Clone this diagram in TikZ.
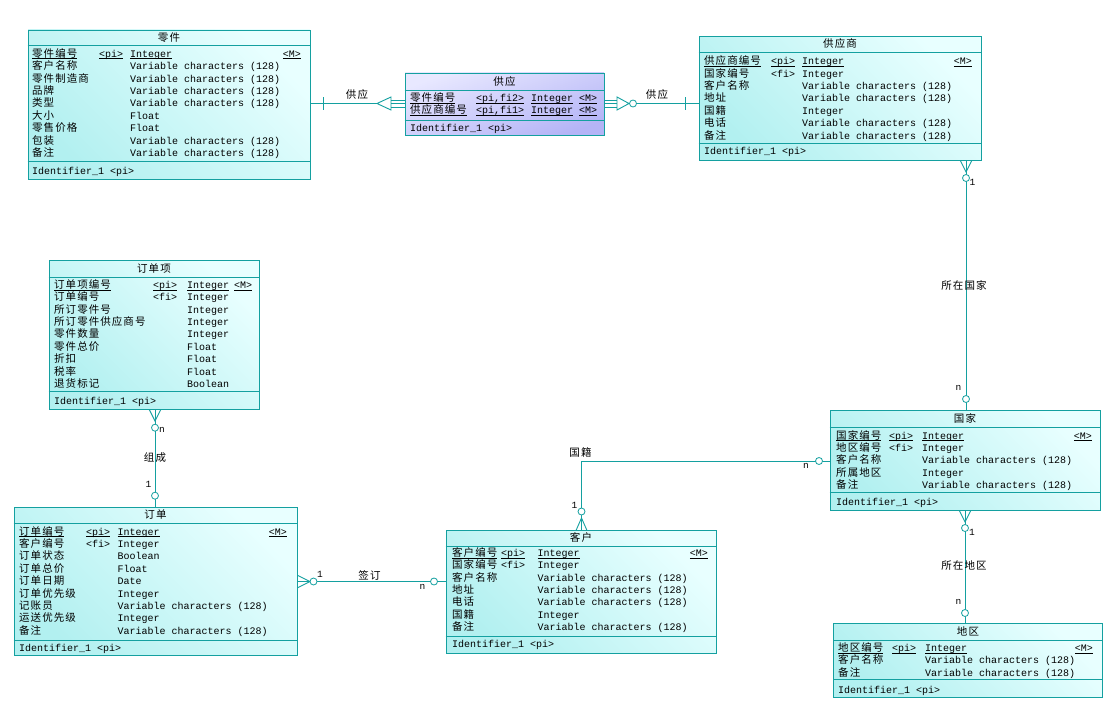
\documentclass[tikz,border=0pt]{standalone}
\usepackage{fontspec}
\setmainfont{Liberation Mono}
\newfontfamily\cnf[LetterSpace=10]{Noto Sans CJK SC}
\definecolor{tl}{RGB}{20,160,160}
\definecolor{cyA}{RGB}{178,240,240}
\definecolor{cyB}{RGB}{232,255,255}
\definecolor{blA}{RGB}{180,180,246}
\definecolor{blB}{RGB}{232,232,255}
\newcommand\uln[1]{\setbox0\hbox{#1}\rlap{\rule[-1.8pt]{\wd0}{0.6pt}}\box0}
\newcommand\erow[7]{%
  \node[cn] (#1n#2) at (#4,#3) {#5};
  \node[mono] (#1t#2) at (#6,#3) {#7};}
\newcommand\erowk[9]{%
  \erow{#1}{#2}{#3}{#4}{#5}{#8}{#9}
  \node[mono] (#1k#2) at (#6,#3) {#7};}
\newcommand\vc{Variable characters (128)}
\begin{document}
\begin{tikzpicture}[x=1pt,y=-1pt,
  mono/.style={anchor=base west, inner sep=0, font=\fontsize{10}{12}\selectfont},
  mright/.style={anchor=base east, inner sep=0, font=\fontsize{10}{12}\selectfont},
  cn/.style={anchor=base west, inner sep=0, font=\cnf\fontsize{10.5}{12}\selectfont},
  ttl/.style={anchor=base, inner sep=0, font=\cnf\fontsize{10.5}{12}\selectfont},
  card/.style={anchor=base west, inner sep=0, font=\fontsize{9.5}{11}\selectfont},
  ent/.style={draw=tl, line width=0.9pt, inner sep=0, top color=cyA, bottom color=cyB, shading angle=135},
  asc/.style={draw=tl, line width=0.9pt, inner sep=0, top color=blB, bottom color=blA, shading angle=20},
  sepl/.style={draw=tl, line width=0.9pt},
  conn/.style={draw=tl, line width=0.9pt},
  circ/.style={circle, draw=tl, fill=white, line width=0.8pt, minimum size=7pt, inner sep=0}]
\useasboundingbox (0,0) rectangle (1116,709);
\fill[white] (0,0) rectangle (1116,709);

% ---------------- connectors ----------------
% 零件 -- 供应
\coordinate (fA) at (377,103.5);
\draw[conn] (310,103.5) -- (fA);
\draw[conn] (fA) -- (391,97) -- (391,110) -- cycle;
\foreach \yy in {100,103.5,107} \draw[conn] (391,\yy) -- (405,\yy);
\draw[conn] (323.3,97) -- (323.3,110);
\node[ttl] (lF) at (357,99) {供应};
% 供应 -- 供应商
\coordinate (gA) at (629,103.5);
\foreach \yy in {100,103.5,107} \draw[conn] (604,\yy) -- (617,\yy);
\draw[conn] (gA) -- (617,97) -- (617,110) -- cycle;
\draw[conn] (gA) -- (699,103.5);
\draw[conn] (685,97) -- (685,110);
\node[circ] (cG) at (633,103.5) {};
\node[ttl] (lG) at (657,99) {供应};
% 供应商 -- 国家
\draw[conn] (966,160) -- (966,410);
\draw[conn] (960,160) -- (966,172) -- (972,160);
\node[circ] (cA1) at (966,178) {};
\node[circ] (cA2) at (966,399) {};
\node[card] (kA1) at (969.5,185) {1};
\node[card] (kA2) at (955.5,390) {n};
\node[ttl] (lA) at (964,289) {所在国家};
% 国家 -- 地区
\draw[conn] (965,510) -- (965,623);
\draw[conn] (959,510) -- (965,522) -- (971,510);
\node[circ] (cB1) at (965,528) {};
\node[circ] (cB2) at (965,613) {};
\node[card] (kB1) at (969,535) {1};
\node[card] (kB2) at (955.5,604) {n};
\node[ttl] (lB) at (964,569) {所在地区};
% 国家 -- 客户
\coordinate (cC) at (581.5,461);
\draw[conn] (830,461) -- (cC) -- (581.5,530.5);
\draw[conn] (576,530.5) -- (581.5,518) -- (587,530.5);
\node[circ] (cC1) at (819,461) {};
\node[circ] (cC2) at (581.5,511.5) {};
\node[card] (kC1) at (803,468) {n};
\node[card] (kC2) at (571.5,508) {1};
\node[ttl] (lC) at (580.5,456.5) {国籍};
% 订单项 -- 订单
\draw[conn] (155,409) -- (155,507);
\draw[conn] (149,409) -- (155,421) -- (161,409);
\node[circ] (cD1) at (155,427.7) {};
\node[circ] (cD2) at (155,495.7) {};
\node[card] (kD1) at (159,432.5) {n};
\node[card] (kD2) at (145.5,487) {1};
\node[ttl] (lD) at (155,461) {组成};
% 订单 -- 客户
\draw[conn] (297,581.5) -- (446,581.5);
\draw[conn] (297,575) -- (310,581.5) -- (297,588);
\node[circ] (cE1) at (313.5,581.5) {};
\node[circ] (cE2) at (434,581.5) {};
\node[card] (kE1) at (317,577.5) {1};
\node[card] (kE2) at (419.5,589.5) {n};
\node[ttl] (lE) at (369.5,579) {签订};

% ---------------- 零件 ----------------
\node[ent, minimum width=282, minimum height=149] (lj) at (169,104.5) {};
\node[ttl] (ljh) at (169,41.5) {零件};
\draw[sepl] (lj.west |- 0,45.5) -- (lj.east |- 0,45.5);
\draw[sepl] (lj.west |- 0,161.5) -- (lj.east |- 0,161.5);
\erowk{lj}{1}{57.3}{32}{\uln{零件编号}}{99}{\uln{<pi>}}{130}{\uln{Integer}}
\node[mright] (ljm1) at (301,57.3) {\uln{<M>}};
\erow{lj}{2}{69.7}{32}{客户名称}{130}{\vc}
\erow{lj}{3}{82.1}{32}{零件制造商}{130}{\vc}
\erow{lj}{4}{94.5}{32}{品牌}{130}{\vc}
\erow{lj}{5}{106.9}{32}{类型}{130}{\vc}
\erow{lj}{6}{119.3}{32}{大小}{130}{Float}
\erow{lj}{7}{131.7}{32}{零售价格}{130}{Float}
\erow{lj}{8}{144.1}{32}{包装}{130}{\vc}
\erow{lj}{9}{156.5}{32}{备注}{130}{\vc}
\node[mono] (ljid) at (32,174) {Identifier\_1 <pi>};

% ---------------- 供应 ----------------
\node[asc, minimum width=199, minimum height=62] (gy) at (504.5,104) {};
\node[ttl] (gyh) at (504.5,85) {供应};
\draw[sepl] (gy.west |- 0,90) -- (gy.east |- 0,90);
\draw[sepl] (gy.west |- 0,120) -- (gy.east |- 0,120);
\erowk{gy}{1}{101.7}{410}{\uln{零件编号}}{476}{\uln{<pi,fi2>}}{531}{\uln{Integer}}
\node[mono] (gym1) at (579,101.7) {\uln{<M>}};
\erowk{gy}{2}{113.5}{410}{\uln{供应商编号}}{476}{\uln{<pi,fi1>}}{531}{\uln{Integer}}
\node[mono] (gym2) at (579,113.5) {\uln{<M>}};
\node[mono] (gyid) at (410,131) {Identifier\_1 <pi>};

% ---------------- 供应商 ----------------
\node[ent, minimum width=282, minimum height=123.5] (gys) at (840,98.25) {};
\node[ttl] (gysh) at (840,48) {供应商};
\draw[sepl] (gys.west |- 0,52.3) -- (gys.east |- 0,52.3);
\draw[sepl] (gys.west |- 0,143.3) -- (gys.east |- 0,143.3);
\erowk{gys}{1}{64.7}{704}{\uln{供应商编号}}{771}{\uln{<pi>}}{802}{\uln{Integer}}
\node[mright] (gysm1) at (972,64.7) {\uln{<M>}};
\erowk{gys}{2}{77.1}{704}{国家编号}{771}{<fi>}{802}{Integer}
\erow{gys}{3}{89.5}{704}{客户名称}{802}{\vc}
\erow{gys}{4}{101.9}{704}{地址}{802}{\vc}
\erow{gys}{5}{114.3}{704}{国籍}{802}{Integer}
\erow{gys}{6}{126.7}{704}{电话}{802}{\vc}
\erow{gys}{7}{139.1}{704}{备注}{802}{\vc}
\node[mono] (gysid) at (704,154) {Identifier\_1 <pi>};

% ---------------- 订单项 ----------------
\node[ent, minimum width=210, minimum height=148.5] (ddx) at (154,334.75) {};
\node[ttl] (ddxh) at (154,272) {订单项};
\draw[sepl] (ddx.west |- 0,277.3) -- (ddx.east |- 0,277.3);
\draw[sepl] (ddx.west |- 0,391.7) -- (ddx.east |- 0,391.7);
\erowk{ddx}{1}{288.3}{54}{\uln{订单项编号}}{153}{\uln{<pi>}}{187}{\uln{Integer}}
\node[mono] (ddxm1) at (234,288.3) {\uln{<M>}};
\erowk{ddx}{2}{300.7}{54}{订单编号}{153}{<fi>}{187}{Integer}
\erow{ddx}{3}{313.1}{54}{所订零件号}{187}{Integer}
\erow{ddx}{4}{325.5}{54}{所订零件供应商号}{187}{Integer}
\erow{ddx}{5}{337.9}{54}{零件数量}{187}{Integer}
\erow{ddx}{6}{350.3}{54}{零件总价}{187}{Float}
\erow{ddx}{7}{362.7}{54}{折扣}{187}{Float}
\erow{ddx}{8}{375.1}{54}{税率}{187}{Float}
\erow{ddx}{9}{387.5}{54}{退货标记}{187}{Boolean}
\node[mono] (ddxid) at (54,404) {Identifier\_1 <pi>};

% ---------------- 国家 ----------------
\node[ent, minimum width=270, minimum height=100] (gj) at (965,460) {};
\node[ttl] (gjh) at (965,422) {国家};
\draw[sepl] (gj.west |- 0,427.3) -- (gj.east |- 0,427.3);
\draw[sepl] (gj.west |- 0,492.7) -- (gj.east |- 0,492.7);
\erowk{gj}{1}{439}{836}{\uln{国家编号}}{889}{\uln{<pi>}}{922}{\uln{Integer}}
\node[mright] (gjm1) at (1092,439) {\uln{<M>}};
\erowk{gj}{2}{451.4}{836}{地区编号}{889}{<fi>}{922}{Integer}
\erow{gj}{3}{463.8}{836}{客户名称}{922}{\vc}
\erow{gj}{4}{476.2}{836}{所属地区}{922}{Integer}
\erow{gj}{5}{488.6}{836}{备注}{922}{\vc}
\node[mono] (gjid) at (836,505) {Identifier\_1 <pi>};

% ---------------- 订单 ----------------
\node[ent, minimum width=283, minimum height=148] (dd) at (155.5,581) {};
\node[ttl] (ddh) at (155.5,518.5) {订单};
\draw[sepl] (dd.west |- 0,523.3) -- (dd.east |- 0,523.3);
\draw[sepl] (dd.west |- 0,640) -- (dd.east |- 0,640);
\erowk{dd}{1}{535}{19}{\uln{订单编号}}{86}{\uln{<pi>}}{117.5}{\uln{Integer}}
\node[mright] (ddm1) at (287,535) {\uln{<M>}};
\erowk{dd}{2}{547.4}{19}{客户编号}{86}{<fi>}{117.5}{Integer}
\erow{dd}{3}{559.8}{19}{订单状态}{117.5}{Boolean}
\erow{dd}{4}{572.2}{19}{订单总价}{117.5}{Float}
\erow{dd}{5}{584.6}{19}{订单日期}{117.5}{Date}
\erow{dd}{6}{597}{19}{订单优先级}{117.5}{Integer}
\erow{dd}{7}{609.4}{19}{记账员}{117.5}{\vc}
\erow{dd}{8}{621.8}{19}{运送优先级}{117.5}{Integer}
\erow{dd}{9}{634.2}{19}{备注}{117.5}{\vc}
\node[mono] (ddid) at (19,651) {Identifier\_1 <pi>};

% ---------------- 客户 ----------------
\node[ent, minimum width=270, minimum height=123] (kh) at (581,592) {};
\node[ttl] (khh) at (581,541.5) {客户};
\draw[sepl] (kh.west |- 0,546.7) -- (kh.east |- 0,546.7);
\draw[sepl] (kh.west |- 0,636.7) -- (kh.east |- 0,636.7);
\erowk{kh}{1}{556.3}{452}{\uln{客户编号}}{501}{\uln{<pi>}}{537.5}{\uln{Integer}}
\node[mright] (khm1) at (708,556.3) {\uln{<M>}};
\erowk{kh}{2}{568.7}{452}{国家编号}{501}{<fi>}{537.5}{Integer}
\erow{kh}{3}{581.1}{452}{客户名称}{537.5}{\vc}
\erow{kh}{4}{593.5}{452}{地址}{537.5}{\vc}
\erow{kh}{5}{605.9}{452}{电话}{537.5}{\vc}
\erow{kh}{6}{618.3}{452}{国籍}{537.5}{Integer}
\erow{kh}{7}{630.7}{452}{备注}{537.5}{\vc}
\node[mono] (khid) at (452,647.5) {Identifier\_1 <pi>};

% ---------------- 地区 ----------------
\node[ent, minimum width=269, minimum height=74.5] (dq) at (968,660.25) {};
\node[ttl] (dqh) at (968,635) {地区};
\draw[sepl] (dq.west |- 0,640.7) -- (dq.east |- 0,640.7);
\draw[sepl] (dq.west |- 0,679.7) -- (dq.east |- 0,679.7);
\erowk{dq}{1}{651.3}{838}{\uln{地区编号}}{892}{\uln{<pi>}}{925}{\uln{Integer}}
\node[mright] (dqm1) at (1093,651.3) {\uln{<M>}};
\erow{dq}{2}{663.7}{838}{客户名称}{925}{\vc}
\erow{dq}{3}{676.1}{838}{备注}{925}{\vc}
\node[mono] (dqid) at (838,693) {Identifier\_1 <pi>};
\end{tikzpicture}
\end{document}
